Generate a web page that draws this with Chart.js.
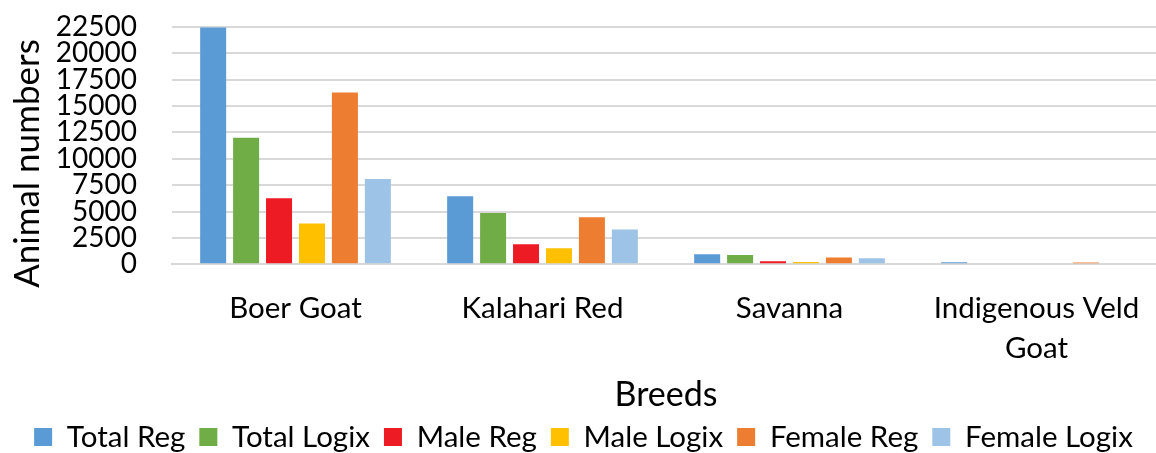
<!DOCTYPE html>
<html>
<head>
<meta charset="utf-8">
<script src="https://cdn.jsdelivr.net/npm/chart.js@4/dist/chart.umd.min.js"></script>
<style>
  html, body { margin: 0; padding: 0; background: #fff; overflow: hidden; }
  #wrap { width: 1160px; height: 453px; position: relative; }
</style>
</head>
<body>
<div id="wrap"><canvas id="c"></canvas></div>
<script>
const categories = ['Boer Goat', 'Kalahari Red', 'Savanna', ['Indigenous Veld', 'Goat']];
const totalReg    = [22450, 6450, 950, 180];
const totalLogix  = [12000, 4850, 880, 0];
const maleReg     = [6250, 1900, 280, 0];
const maleLogix   = [3870, 1520, 220, 0];
const femaleReg   = [16300, 4460, 640, 170];
const femaleLogix = [8080, 3300, 570, 0];
const seriesNames = ['Total Reg', 'Total Logix', 'Male Reg', 'Male Logix', 'Female Reg', 'Female Logix'];
const seriesColors = ['#5B9BD5', '#70AD47', '#ED1C24', '#FFC000', '#ED7D31', '#9DC3E6'];
const yTicks = [0, 2500, 5000, 7500, 10000, 12500, 15000, 17500, 20000, 22500];

const seriesData = [totalReg, totalLogix, maleReg, maleLogix, femaleReg, femaleLogix];
const FONT = 'Lato, "Open Sans", sans-serif';

new Chart(document.getElementById('c'), {
  type: 'bar',
  data: {
    labels: categories,
    datasets: seriesData.map((d, i) => ({
      label: seriesNames[i],
      data: d,
      backgroundColor: seriesColors[i],
      borderWidth: 0,
      barPercentage: 0.79,
      categoryPercentage: 0.8
    }))
  },
  options: {
    responsive: true,
    maintainAspectRatio: false,
    animation: false,
    layout: { padding: { top: 27, right: 0, left: 7, bottom: -8.75 } },
    plugins: {
      tooltip: { enabled: false },
      legend: {
        position: 'bottom',
        labels: {
          color: '#000',
          font: { family: FONT, size: 29.5, lineHeight: 1.0 },
          boxWidth: 18,
          boxHeight: 18,
          padding: 14
        }
      }
    },
    scales: {
      x: {
        afterFit: (axis) => { axis.height = 144; axis.paddingLeft = 0; axis.paddingRight = 0; },
        grid: { display: false, drawTicks: false },
        border: { display: true, color: '#d9d9d9', width: 2 },
        ticks: {
          color: '#000',
          font: { family: FONT, size: 29.5, lineHeight: 1.35 },
          padding: 24,
          maxRotation: 0,
          autoSkip: false
        },
        title: {
          display: true,
          text: 'Breeds',
          color: '#000',
          font: { family: FONT, size: 34, lineHeight: 1.2 },
          padding: { top: 0, bottom: -7 }
        }
      },
      y: {
        min: 0,
        max: 22500,
        afterBuildTicks: (axis) => { axis.ticks = yTicks.map(v => ({ value: v })); },
        afterFit: (axis) => { axis.width = 165; axis.paddingTop = 0; axis.paddingBottom = 0; },
        grid: { color: '#d9d9d9', lineWidth: 2, drawTicks: false },
        border: { display: false },
        ticks: {
          color: '#000',
          font: { family: FONT, size: 28, lineHeight: 1.0 },
          padding: 35,
          autoSkip: false,
          callback: (v) => String(v)
        },
        title: {
          display: true,
          text: 'Animal numbers    ',
          color: '#000',
          font: { family: FONT, size: 35, lineHeight: 1.2 },
          padding: { top: 0, bottom: 0 }
        }
      }
    }
  }
});
</script>
</body>
</html>
